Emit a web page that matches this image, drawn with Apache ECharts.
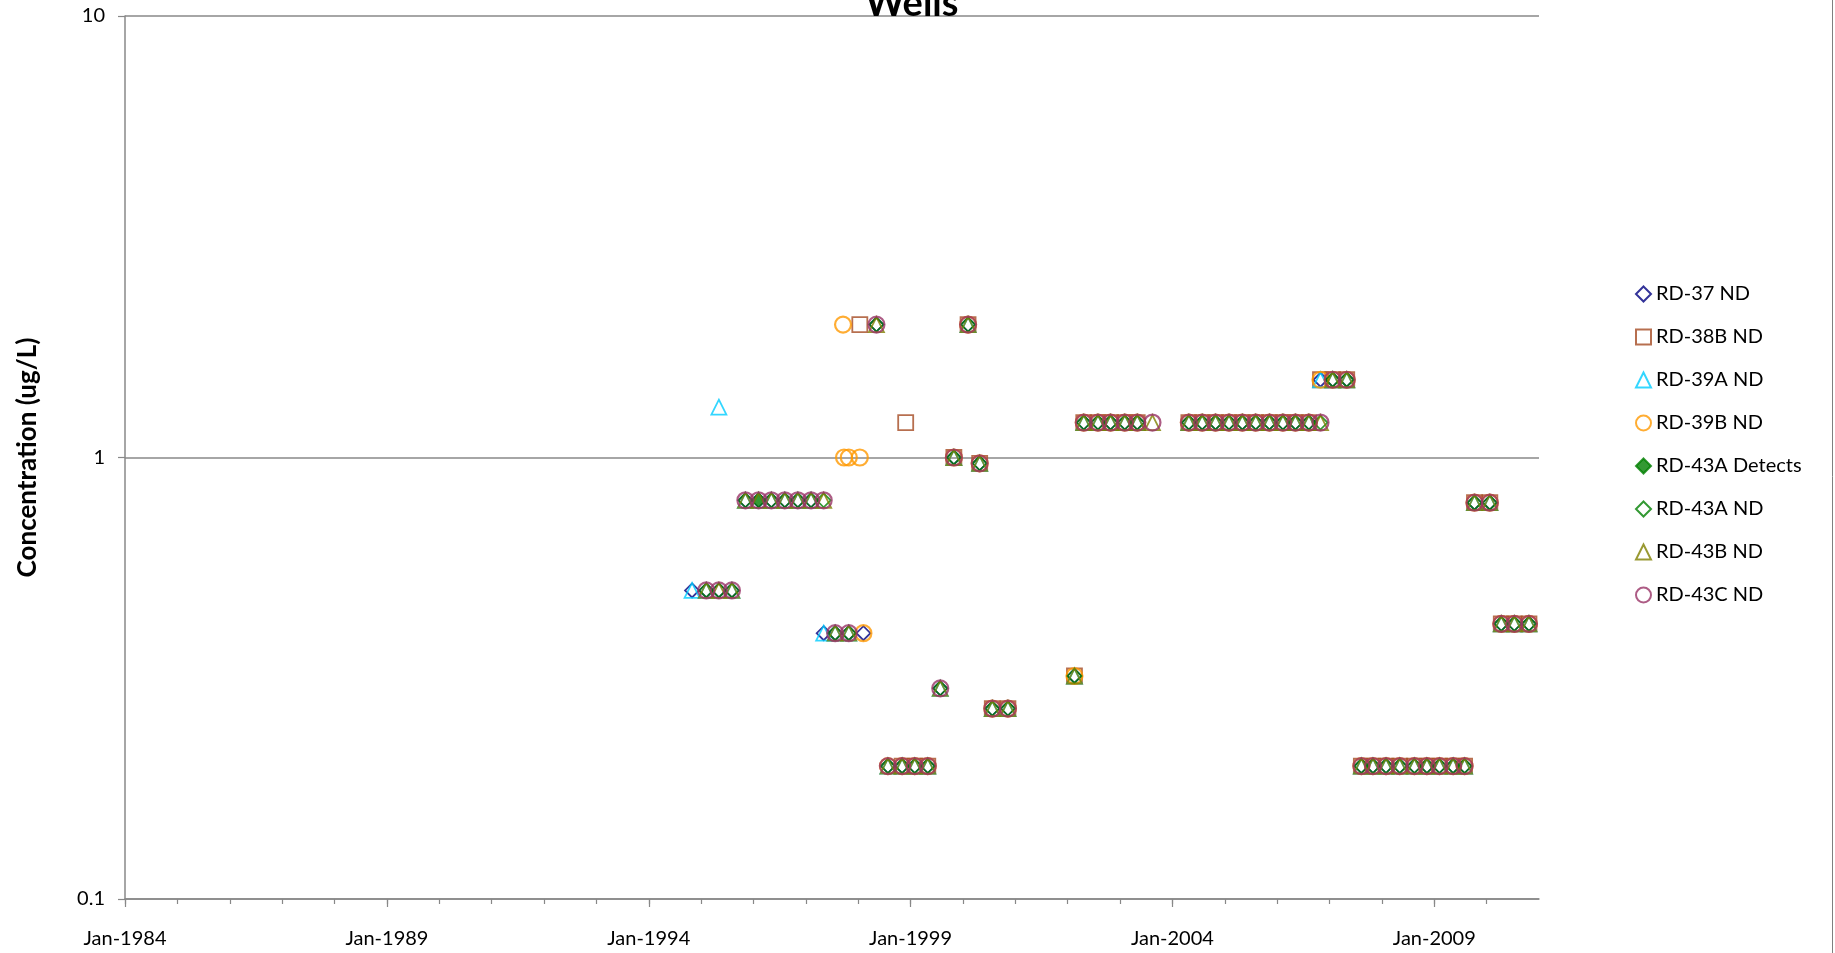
<!DOCTYPE html>
<html>
<head>
<meta charset="utf-8">
<script src="https://cdn.jsdelivr.net/npm/echarts@6/dist/echarts.min.js"></script>
<style>
html,body{margin:0;padding:0;background:#ffffff;}
#chart{width:1835px;height:953px;}
</style>
</head>
<body>
<div id="chart"></div>
<script>
// ---------- DATA ----------
const sampleDates = [
  '1994-10-30','1995-02-06','1995-05-05','1995-08-04','1995-11-06','1996-02-06','1996-05-05','1996-08-07','1996-11-06','1997-02-06',
  '1997-05-05','1997-07-24','1997-09-17','1997-09-24','1997-10-27','1998-01-12','1998-02-06','1998-05-08','1998-07-27','1998-11-03',
  '1998-11-28','1999-01-30','1999-05-01','1999-07-27','1999-10-30','2000-02-06','2000-04-27','2000-07-24','2000-11-10','2002-02-17',
  '2002-04-23','2002-07-31','2002-10-27','2003-02-03','2003-05-01','2003-08-15','2004-04-25','2004-07-27','2004-10-28','2005-01-30',
  '2005-05-03','2005-08-04','2005-11-08','2006-02-10','2006-05-08','2006-08-10','2006-10-30','2007-01-23','2007-05-01','2007-08-11',
  '2007-10-31','2008-01-30','2008-05-05','2008-08-15','2008-11-10','2009-02-06','2009-05-12','2009-07-31','2009-10-08','2010-01-23',
  '2010-04-13','2010-07-13','2010-10-23'
];
const N = null;
const rd37 = [
  0.5,0.5,0.5,0.5,0.8,0.8,0.8,0.8,0.8,0.8,
  0.4,0.4,N,N,0.4,N,0.4,2,0.2,0.2,
  N,0.2,0.2,0.3,1,2,0.97,0.27,0.27,0.32,
  1.2,1.2,1.2,1.2,1.2,N,1.2,1.2,1.2,1.2,
  1.2,1.2,1.2,1.2,1.2,1.2,1.5,1.5,1.5,0.2,
  0.2,0.2,0.2,0.2,0.2,0.2,0.2,0.2,0.79,0.79,
  0.42,0.42,0.42
];
const rd38b = [
  N,N,N,N,N,N,N,N,N,N,
  N,N,N,N,N,2,N,N,N,0.2,
  1.2,0.2,0.2,N,1,2,0.97,0.27,0.27,0.32,
  1.2,1.2,1.2,1.2,1.2,N,1.2,1.2,1.2,1.2,
  1.2,1.2,1.2,1.2,1.2,1.2,1.5,1.5,1.5,0.2,
  0.2,0.2,0.2,0.2,0.2,0.2,0.2,0.2,0.79,0.79,
  0.42,0.42,0.42
];
const rd39a = [
  0.5,0.5,1.3,0.5,0.8,0.8,0.8,0.8,0.8,0.8,
  0.4,0.4,N,N,0.4,N,N,N,0.2,0.2,
  N,0.2,0.2,0.3,1,2,0.97,0.27,0.27,0.32,
  1.2,1.2,1.2,1.2,1.2,N,1.2,1.2,1.2,1.2,
  1.2,1.2,1.2,1.2,1.2,1.2,1.5,1.5,1.5,0.2,
  0.2,0.2,0.2,0.2,0.2,0.2,0.2,0.2,0.79,0.79,
  0.42,0.42,0.42
];
const rd39b = [
  N,N,N,N,N,N,N,N,N,N,
  N,N,2,1,1,1,0.4,N,0.2,0.2,
  N,0.2,0.2,N,1,2,0.97,0.27,0.27,0.32,
  1.2,1.2,1.2,1.2,1.2,N,1.2,1.2,1.2,1.2,
  1.2,1.2,1.2,1.2,1.2,1.2,1.5,1.5,1.5,0.2,
  0.2,0.2,0.2,0.2,0.2,0.2,0.2,0.2,0.79,0.79,
  0.42,0.42,0.42
];
const rd43aDetects = [
  N,N,N,N,N,0.8,N,N,N,N,
  N,N,N,N,N,N,N,N,N,N,
  N,N,N,N,N,N,N,N,N,N,
  N,N,N,N,N,N,N,N,N,N,
  N,N,N,N,N,N,N,N,N,N,
  N,N,N,N,N,N,N,N,N,N,
  N,N,N
];
const rd43aNd = [
  N,0.5,0.5,0.5,0.8,N,0.8,0.8,0.8,0.8,
  0.8,0.4,N,N,0.4,N,N,2,0.2,0.2,
  N,0.2,0.2,0.3,1,2,0.97,0.27,0.27,0.32,
  1.2,1.2,1.2,1.2,1.2,N,1.2,1.2,1.2,1.2,
  1.2,1.2,1.2,1.2,1.2,1.2,1.2,1.5,1.5,0.2,
  0.2,0.2,0.2,0.2,0.2,0.2,0.2,0.2,0.79,0.79,
  0.42,0.42,0.42
];
const rd43b = [
  N,0.5,0.5,0.5,0.8,0.8,0.8,0.8,0.8,0.8,
  0.8,0.4,N,N,0.4,N,N,2,0.2,0.2,
  N,0.2,0.2,0.3,1,2,0.97,0.27,0.27,0.32,
  1.2,1.2,1.2,1.2,1.2,1.2,1.2,1.2,1.2,1.2,
  1.2,1.2,1.2,1.2,1.2,1.2,1.2,1.5,1.5,0.2,
  0.2,0.2,0.2,0.2,0.2,0.2,0.2,0.2,0.79,0.79,
  0.42,0.42,0.42
];
const rd43c = [
  N,0.5,0.5,0.5,0.8,0.8,0.8,0.8,0.8,0.8,
  0.8,0.4,N,N,0.4,N,N,2,0.2,0.2,
  N,0.2,0.2,0.3,1,2,0.97,0.27,0.27,N,
  1.2,1.2,1.2,1.2,1.2,1.2,1.2,1.2,1.2,1.2,
  1.2,1.2,1.2,1.2,1.2,1.2,1.2,1.5,1.5,0.2,
  0.2,0.2,0.2,0.2,0.2,0.2,0.2,0.2,0.79,0.79,
  0.42,0.42,0.42
];
const seriesNames = ['RD-37 ND','RD-38B ND','RD-39A ND','RD-39B ND','RD-43A Detects','RD-43A ND','RD-43B ND','RD-43C ND'];
const seriesValues = [rd37, rd38b, rd39a, rd39b, rd43aDetects, rd43aNd, rd43b, rd43c];
const xLabelYears = [1984, 1989, 1994, 1999, 2004, 2009];
const yTickValues = [0.1, 1, 10];
const titleText = 'Wells';
const yAxisTitle = 'Concentration (ug/L)';

// ---------- STYLE ----------
const markerStyles = [
  {symbol:'diamond',  color:'#000080', filled:false, size:14},
  {symbol:'rect',     color:'#A54B23', filled:false, size:15},
  {symbol:'triangle', color:'#00CCFF', filled:false, size:15},
  {symbol:'circle',   color:'#FF9900', filled:false, size:16},
  {symbol:'diamond',  color:'#008000', filled:true,  size:15},
  {symbol:'diamond',  color:'#008000', filled:false, size:14},
  {symbol:'triangle', color:'#808000', filled:false, size:15},
  {symbol:'circle',   color:'#993366', filled:false, size:16}
];
const FONT = 'Lato';
const AX = '#888888';
const ts = s => Date.parse(s);
const yearTs = y => Date.UTC(y, 0, 1);
const xMin = yearTs(1984), xMax = yearTs(2011);
const minorYears = [];
for (let y = 1984; y <= 2010; y++) minorYears.push(yearTs(y));

const series = seriesNames.map((name, i) => {
  const st = markerStyles[i];
  return {
    name: name,
    type: 'scatter',
    xAxisIndex: 0,
    yAxisIndex: 0,
    symbol: st.symbol,
    symbolSize: st.size,
    data: sampleDates.map((d, j) => [ts(d), seriesValues[i][j]]).filter(p => p[1] !== null),
    itemStyle: st.filled
      ? {color: st.color, borderColor: st.color, borderWidth: 1}
      : {color: 'rgba(255,255,255,0)', borderColor: st.color, borderWidth: st.symbol === 'circle' ? 2.2 : 1.8},
    emphasis: {disabled: true},
    silent: true
  };
});

const chart = echarts.init(document.getElementById('chart'), null, {renderer: 'canvas'});
chart.setOption({
  animation: false,
  backgroundColor: '#ffffff',
  title: {
    text: titleText,
    left: 860,
    top: -20,
    textStyle: {fontFamily: FONT, fontWeight: 'bold', fontSize: 38, lineHeight: 38, color: '#000'}
  },
  grid: {left: 125, right: 296, top: 16, bottom: 54, containLabel: false},
  legend: {
    orient: 'vertical',
    left: 1630,
    top: 279,
    itemWidth: 15,
    itemHeight: 15,
    itemGap: 23,
    data: seriesNames,
    textStyle: {fontFamily: FONT, fontSize: 20, lineHeight: 20, color: '#000'},
    selectedMode: false
  },
  xAxis: [
    {
      type: 'value',
      min: xMin,
      max: xMax,
      position: 'bottom',
      axisLine: {show: true, lineStyle: {color: AX, width: 1.5}},
      axisTick: {show: true, length: 8, lineStyle: {color: AX, width: 1.2}, customValues: xLabelYears.map(yearTs)},
      axisLabel: {
        show: true, margin: 30, customValues: xLabelYears.map(yearTs),
        fontFamily: FONT, fontSize: 20, color: '#000',
        formatter: v => 'Jan-' + new Date(v).getUTCFullYear()
      },
      splitLine: {show: false}
    },
    {
      type: 'value',
      min: xMin,
      max: xMax,
      position: 'bottom',
      axisLine: {show: false},
      axisTick: {show: true, length: 5, lineStyle: {color: AX, width: 1.2}, customValues: minorYears},
      axisLabel: {show: false},
      splitLine: {show: false}
    }
  ],
  yAxis: {
    type: 'log',
    logBase: 10,
    min: 0.1,
    max: 10,
    name: yAxisTitle,
    nameLocation: 'middle',
    nameGap: 84,
    nameTextStyle: {fontFamily: FONT, fontWeight: 'bold', fontSize: 26, color: '#000'},
    axisLine: {show: true, lineStyle: {color: AX, width: 1.5}},
    axisTick: {show: true, length: 7, lineStyle: {color: AX, width: 1.2}, customValues: yTickValues},
    axisLabel: {
      show: true, margin: 20, customValues: yTickValues,
      fontFamily: FONT, fontSize: 20, color: '#000',
      formatter: v => String(+(+v).toPrecision(3))
    },
    splitLine: {show: true, lineStyle: {color: AX, width: 1.5}}
  },
  graphic: [
    {type: 'line', shape: {x1: 1832.5, y1: 0, x2: 1832.5, y2: 953}, style: {stroke: '#7f7f7f', lineWidth: 1}, silent: true}
  ],
  series: series
});
</script>
</body>
</html>
